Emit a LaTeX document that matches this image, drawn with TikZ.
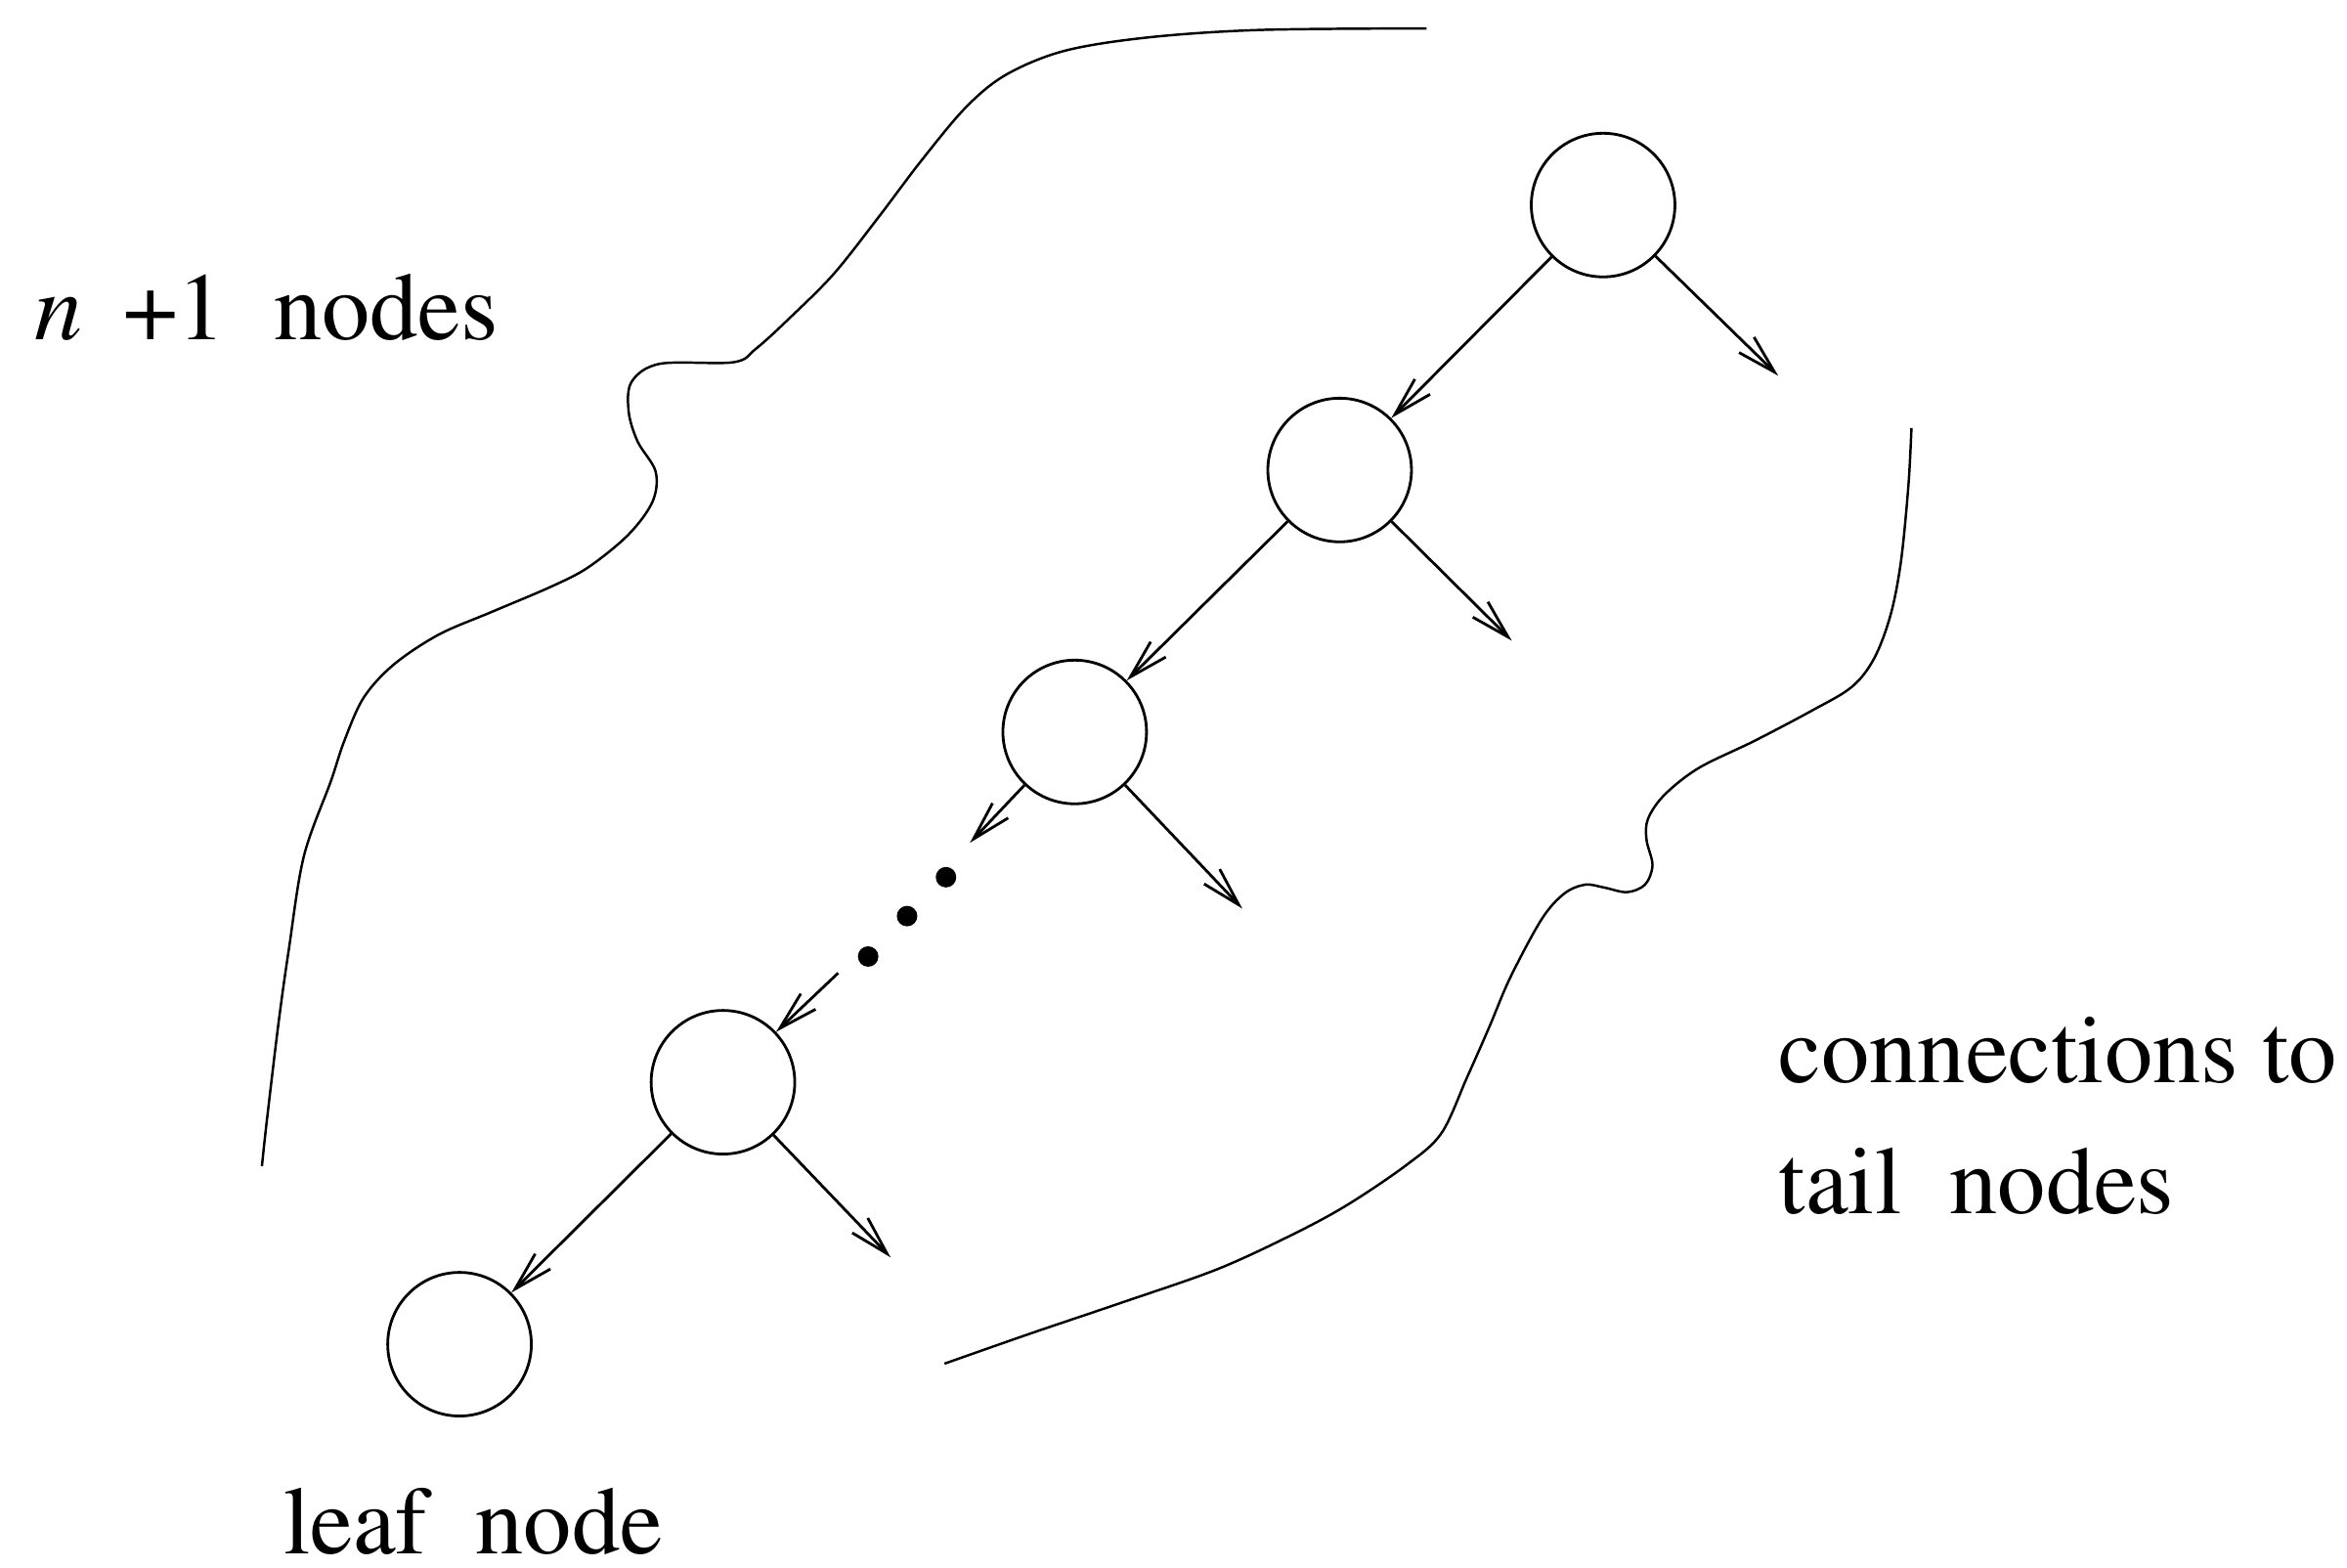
\documentclass[tikz,border=0pt]{standalone}
\usepackage[T1]{fontenc}
\usepackage{mathptmx}
\usetikzlibrary{arrows.meta}

\begin{document}
\begin{tikzpicture}[
    x=0.015313cm, y=-0.015313cm,
    vertex/.style={circle, draw, line width=0.8pt, minimum size=1.47cm, inner sep=0pt},
    arrow/.style={-{Straight Barb[length=4mm, width=2.2mm]}, line width=0.8pt},
    dot/.style={circle, fill, inner sep=0pt, minimum size=0.21cm},
    boundary/.style={line width=0.7pt},
    lbl/.style={font=\fontsize{28}{38}\selectfont, inner sep=0pt, anchor=base west}
]
    \useasboundingbox (0,0) rectangle (1568,1047.5);

    % Chain of nodes down to the leaf
    \node[vertex] (top) at (1071,137) {};
    \node[vertex] (second) at (895,314) {};
    \node[vertex] (third) at (718,489) {};
    \node[vertex] (last) at (483,723) {};
    \node[vertex] (leaf) at (307,898) {};

    % Free ends of the connections to tail nodes
    \coordinate (tail1) at (1188,251);
    \coordinate (tail2) at (1010,428);
    \coordinate (tail3) at (830,607);
    \coordinate (tail4) at (595,840);

    % Ends of the broken part of the chain
    \coordinate (gapin) at (648,563);
    \coordinate (gapout) at (560,650);

    \draw[arrow] (top) -- (second);
    \draw[arrow] (second) -- (third);
    \draw[arrow] (third) -- (gapin);
    \draw[arrow] (gapout) -- (last);
    \draw[arrow] (last) -- (leaf);

    \draw[arrow] (top) -- (tail1);
    \draw[arrow] (second) -- (tail2);
    \draw[arrow] (third) -- (tail3);
    \draw[arrow] (last) -- (tail4);

    % Dots
    \node[dot] (dot1) at (632,586) {};
    \node[dot] (dot2) at (606,612) {};
    \node[dot] (dot3) at (580,639) {};

    % Left boundary
    \draw[boundary] plot[smooth, tension=0.55] coordinates {
        (953,19) (842,20) (767,25) (711,34) (672,50) (645,72) (615,108)
        (587,145) (557,183) (527,213) (505,233) (490,242) (441,243)
        (422,255) (420,275) (426,295) (438,315) (436,335) (420,357)
        (393,379) (368,392) (328,409) (293,424) (263,444) (243,466)
        (230,495) (221,522) (203,572) (193,634) (186,684) (178,751)
        (175,779)};

    % Right boundary
    \draw[boundary] plot[smooth, tension=0.55] coordinates {
        (1277,286) (1275,324) (1270,375) (1263,411) (1252,440) (1237,459)
        (1210,475) (1172,495) (1135,513) (1112,531) (1101,547) (1100,561)
        (1104,578) (1099,591) (1087,596) (1072,593) (1059,591) (1045,597)
        (1030,614) (1009,653) (995,686) (980,720) (963,757) (940,778)
        (900,805) (863,825) (813,848) (750,870) (688,891) (631,911)};

    % Labels
    \node[lbl] (nplus) at (23,227) {\textit{n}\hspace{0.42em}+1\ \ nodes};
    \node[lbl] (conn) at (1188,723) {connections to};
    \node[lbl] (tailtxt) at (1188,811) {tail\ \ nodes};
    \node[lbl] (leaftxt) at (189,1038) {leaf\ \ node};
\end{tikzpicture}
\end{document}
